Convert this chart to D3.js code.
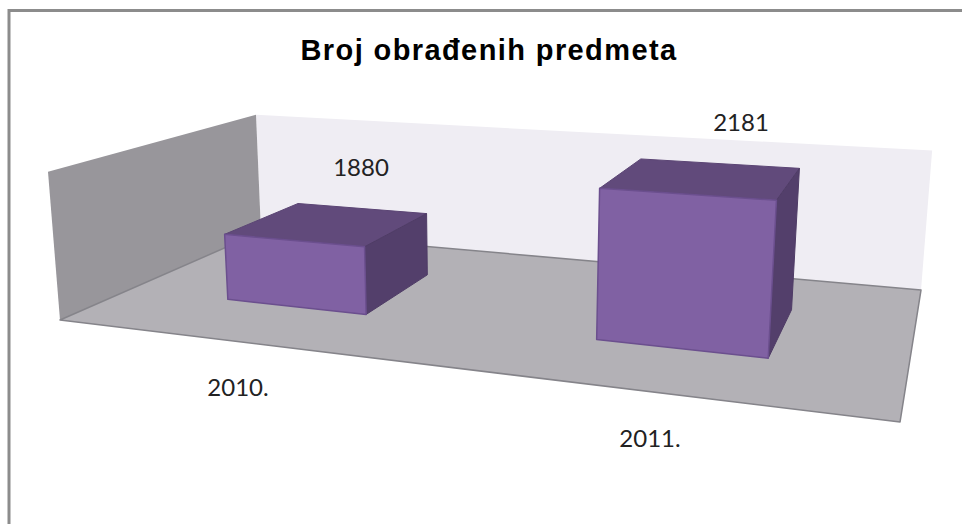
<!DOCTYPE html>
<html lang="hr">
<head>
    <meta charset="UTF-8">
    <script src="https://d3js.org/d3.v7.min.js"></script>
    <style>
        html, body {
            margin: 0;
            padding: 0;
            background: #fff;
            overflow: hidden;
        }
        .title {
            font-family: "Liberation Sans", Arial, sans-serif;
            font-size: 29px;
            font-weight: bold;
            letter-spacing: 1.4px;
            fill: #000;
            text-anchor: middle;
        }
        .label {
            font-family: Lato, sans-serif;
            font-size: 24px;
            fill: #222;
            text-anchor: middle;
        }
    </style>
</head>
<body>
    <svg id="chart"></svg>
    <script>
        const categories = ["2010.", "2011."];
        const values = [1880, 2181];
        const titleText = "Broj obrađenih predmeta";
        const valueDomain = [1600, 2200];

        const width = 962;
        const height = 524;

        const svg = d3.select("#chart")
            .attr("width", width)
            .attr("height", height)
            .style("display", "block");

        // u = along the categories, v = depth, t = height
        const x = d3.scaleBand()
            .domain(categories)
            .range([0, 1])
            .paddingInner(0.6)
            .paddingOuter(0.3);

        const y = d3.scaleLinear()
            .domain(valueDomain)
            .range([0, 1]);

        // perspective fitted to the floor and wall corners
        function project(u, v, t) {
            const w = 1 - 0.2106 * u + 0.2794 * v - 0.027 * t;
            return [
                (650.5 * u + 273.9 * v + 60 - 13.3 * t) / w,
                (13.1 * u - 23.2 * v + 320 - 153 * t) / w
            ];
        }

        const line = d3.line().curve(d3.curveLinearClosed);

        function face(points, fill, stroke, strokeWidth) {
            svg.append("path")
                .attr("d", line(points.map(p => project(p[0], p[1], p[2]))))
                .attr("fill", fill)
                .attr("stroke", stroke)
                .attr("stroke-width", strokeWidth)
                .attr("stroke-linejoin", "round");
        }

        // chart border
        svg.append("rect")
            .attr("x", 9)
            .attr("y", 10.5)
            .attr("width", 960)
            .attr("height", 530)
            .attr("fill", "#fff")
            .attr("stroke", "#8c8c8c")
            .attr("stroke-width", 3);

        svg.append("text")
            .attr("class", "title")
            .attr("x", 489)
            .attr("y", 60)
            .text(titleText);

        // walls and floor
        face([[0, 1, 0], [1, 1, 0], [1, 1, 1], [0, 1, 1]], "#efedf3", "none", 0);
        face([[0, 0, 0], [0, 1, 0], [0, 1, 1], [0, 0, 1]], "#98969b", "none", 0);
        face([[0, 0, 0], [1, 0, 0], [1, 1, 0], [0, 1, 0]], "#b3b1b6", "#85848a", 1.5);

        // bars
        const v0 = 0.3, v1 = 0.7;
        categories.forEach((c, i) => {
            const u0 = x(c);
            const u1 = u0 + x.bandwidth();
            const t = y(values[i]);
            face([[u0, v1, t], [u1, v1, t], [u1, v0, t], [u0, v0, t]], "#614a7b", "#5b4574", 1);
            face([[u1, v0, 0], [u1, v1, 0], [u1, v1, t], [u1, v0, t]], "#533f6b", "#4f3c66", 1);
            face([[u0, v0, 0], [u1, v0, 0], [u1, v0, t], [u0, v0, t]], "#8061a3", "#6b4f8e", 1.5);
        });

        // value labels sit above the bars, category labels below the floor
        const valueLabels = [[361, 176], [741, 131]];
        const categoryLabels = [[238, 396], [650, 447]];

        svg.selectAll(".value")
            .data(values)
            .enter()
            .append("text")
            .attr("class", "label value")
            .attr("x", (d, i) => valueLabels[i][0])
            .attr("y", (d, i) => valueLabels[i][1])
            .text(d => d);

        svg.selectAll(".category")
            .data(categories)
            .enter()
            .append("text")
            .attr("class", "label category")
            .attr("x", (d, i) => categoryLabels[i][0])
            .attr("y", (d, i) => categoryLabels[i][1])
            .text(d => d);
    </script>
</body>
</html>
